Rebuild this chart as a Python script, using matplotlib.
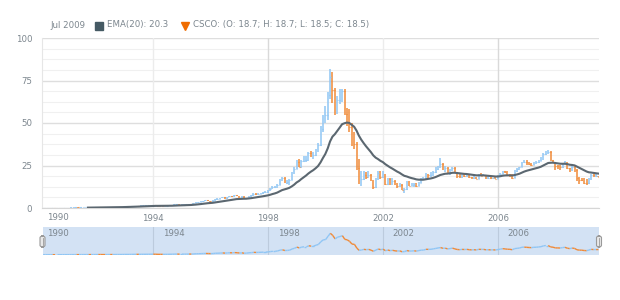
import numpy as np
import pandas as pd
import matplotlib
matplotlib.use("Agg")
import matplotlib.pyplot as plt
import matplotlib.dates as mdates
from matplotlib.collections import LineCollection
from matplotlib.patches import FancyBboxPatch

# CSCO monthly OHLC, Mar 1990 .. Jul 2009
start_month = "1990-03-01"

opens = [
    0.07, 0.08, 0.09, 0.10, 0.11, 0.12, 0.10, 0.10, 0.12, 0.15,
    0.17, 0.22, 0.25, 0.28, 0.30, 0.32, 0.30, 0.34, 0.38, 0.40, 0.42, 0.41,
    0.45, 0.55, 0.58, 0.52, 0.50, 0.46, 0.52, 0.56, 0.55, 0.60, 0.66, 0.70,
    0.75, 0.90, 0.92, 0.95, 1.15, 1.30, 1.32, 1.25, 1.45, 1.50, 1.55, 1.60,
    1.78, 1.80, 1.70, 1.30, 1.25, 1.20, 1.30, 1.40, 1.60, 1.75, 2.10, 2.15,
    1.95, 1.95, 2.05, 2.10, 2.30, 2.25, 2.80, 3.30, 3.50, 3.85, 4.25, 4.45,
    4.15, 3.90, 4.30, 5.15, 5.45, 5.80, 6.30, 5.75, 6.45, 6.90, 6.85, 7.55,
    7.07, 6.10, 6.60, 5.35, 5.70, 6.95, 7.40, 8.45, 8.10, 8.45, 8.70, 9.30,
    9.30, 10.10, 11.40, 12.20, 12.20, 13.70, 16.40, 17.60, 15.00, 15.45, 16.50, 20.70,
    23.20, 27.30, 24.40, 27.40, 28.50, 28.50, 32.20, 31.00, 31.00, 34.30, 37.00, 46.70,
    53.56, 54.70, 66.70, 77.30, 69.30, 56.90, 63.60, 65.40, 68.70, 55.30, 53.90, 47.90,
    38.30, 37.40, 23.70, 15.80, 16.98, 19.26, 18.20, 19.20, 16.33, 12.18, 16.92, 20.50,
    18.10, 19.80, 14.30, 16.90, 14.65, 15.80, 13.95, 13.20, 13.80, 10.50, 11.20, 14.90,
    13.10, 13.40, 14.00, 13.00, 15.00, 16.40, 16.80, 19.50, 19.20, 19.60, 21.00, 22.70,
    24.30, 25.70, 23.10, 23.60, 20.90, 22.10, 23.70, 20.90, 18.80, 18.10, 19.20, 18.70,
    19.30, 18.00, 17.40, 17.90, 17.30, 19.40, 19.10, 19.20, 17.60, 17.90, 17.40, 17.50,
    17.10, 18.60, 20.20, 21.70, 20.90, 19.70, 19.50, 17.90, 22.00, 23.00, 24.10, 26.90,
    27.30, 26.60, 25.90, 25.50, 26.70, 26.90, 27.90, 28.90, 31.90, 33.10, 33.10, 28.00,
    27.10, 24.50, 24.40, 24.10, 25.60, 26.70, 23.30, 22.00, 24.00, 22.60, 17.80, 16.50,
    16.30, 15.00, 14.60, 16.80, 19.30, 18.50, 18.70,
]
highs = [
    0.09, 0.10, 0.11, 0.12, 0.13, 0.13, 0.12, 0.13, 0.16, 0.18,
    0.24, 0.27, 0.30, 0.32, 0.34, 0.34, 0.36, 0.40, 0.43, 0.45, 0.46, 0.48,
    0.60, 0.63, 0.60, 0.56, 0.53, 0.55, 0.59, 0.60, 0.63, 0.68, 0.73, 0.80,
    0.95, 1.00, 1.02, 1.20, 1.38, 1.42, 1.40, 1.50, 1.60, 1.65, 1.70, 1.85,
    1.95, 1.90, 1.75, 1.45, 1.38, 1.40, 1.48, 1.65, 1.85, 2.20, 2.30, 2.20,
    2.10, 2.15, 2.25, 2.40, 2.45, 2.90, 3.45, 3.70, 4.00, 4.40, 4.70, 4.60,
    4.30, 4.50, 5.30, 5.70, 6.10, 6.60, 6.40, 6.60, 7.10, 7.20, 7.80, 7.70,
    7.30, 7.00, 6.80, 6.00, 7.20, 7.70, 8.80, 8.90, 8.90, 9.10, 9.60, 9.90,
    10.40, 11.80, 12.70, 12.90, 14.00, 16.80, 18.20, 18.00, 16.60, 17.20, 21.20, 24.00,
    28.50, 28.80, 28.00, 30.50, 30.80, 33.00, 33.80, 32.80, 35.00, 38.00, 48.00, 55.00,
    60.00, 68.00, 82.00, 80.00, 70.50, 66.00, 69.80, 70.00, 70.00, 59.00, 58.00, 50.00,
    44.50, 39.00, 29.00, 22.00, 21.50, 21.00, 21.80, 20.20, 16.50, 17.80, 21.50, 21.80,
    21.70, 20.00, 17.80, 17.50, 17.50, 16.50, 14.50, 15.00, 14.20, 12.00, 15.80, 15.70,
    14.80, 14.50, 14.70, 15.40, 17.50, 18.50, 20.50, 20.00, 21.00, 22.00, 24.00, 25.00,
    29.40, 26.40, 24.80, 24.10, 23.20, 24.20, 24.00, 21.00, 20.20, 20.10, 19.80, 19.90,
    19.70, 18.50, 18.60, 18.30, 20.10, 20.30, 20.10, 19.70, 18.80, 18.20, 17.80, 18.10,
    19.30, 20.50, 22.00, 22.00, 21.50, 20.10, 19.80, 22.30, 23.50, 24.40, 27.30, 28.00,
    28.00, 27.20, 26.30, 27.00, 27.50, 28.40, 30.00, 32.20, 33.80, 34.20, 33.50, 28.50,
    27.20, 25.20, 25.30, 26.50, 27.70, 27.00, 23.80, 25.20, 24.80, 22.70, 18.50, 17.80,
    17.80, 16.80, 17.50, 19.80, 20.00, 19.80, 18.70,
]
lows = [
    0.07, 0.08, 0.09, 0.10, 0.10, 0.09, 0.09, 0.10, 0.11, 0.14,
    0.16, 0.21, 0.24, 0.27, 0.29, 0.28, 0.29, 0.33, 0.37, 0.39, 0.39, 0.40,
    0.44, 0.53, 0.50, 0.48, 0.44, 0.45, 0.50, 0.52, 0.53, 0.58, 0.64, 0.69,
    0.73, 0.86, 0.88, 0.92, 1.10, 1.20, 1.18, 1.22, 1.40, 1.45, 1.50, 1.56,
    1.65, 1.62, 1.25, 1.15, 1.12, 1.15, 1.25, 1.36, 1.55, 1.70, 1.98, 1.85,
    1.85, 1.88, 1.98, 2.02, 2.15, 2.18, 2.70, 3.15, 3.35, 3.70, 4.10, 3.95,
    3.70, 3.75, 4.20, 5.00, 5.30, 5.60, 5.20, 5.50, 6.30, 6.50, 6.70, 6.90,
    5.90, 5.90, 5.20, 5.10, 5.60, 6.70, 7.30, 7.90, 7.90, 8.10, 8.40, 8.80,
    9.00, 9.90, 11.20, 11.60, 11.80, 13.40, 16.00, 14.50, 14.00, 13.50, 16.20, 20.20,
    22.80, 24.00, 23.80, 27.00, 26.80, 27.80, 30.20, 29.00, 30.50, 33.00, 36.50, 45.00,
    50.00, 52.00, 64.00, 61.50, 55.00, 55.50, 61.00, 62.50, 54.50, 48.00, 45.00, 36.50,
    35.00, 22.50, 14.30, 13.20, 16.50, 17.00, 17.80, 15.90, 11.30, 11.80, 16.50, 17.30,
    17.50, 13.80, 13.50, 13.80, 13.80, 13.40, 11.50, 12.60, 10.30, 8.60, 10.80, 12.80,
    12.80, 12.50, 12.20, 12.80, 14.70, 16.20, 16.50, 17.70, 18.50, 19.00, 20.80, 22.20,
    23.80, 22.50, 21.00, 20.20, 19.70, 21.50, 20.50, 17.50, 17.60, 17.50, 18.20, 18.30,
    17.50, 16.90, 16.80, 16.80, 17.10, 18.60, 18.70, 17.30, 16.90, 16.80, 16.80, 16.90,
    16.90, 18.30, 20.00, 20.40, 19.30, 18.50, 17.20, 17.80, 21.30, 22.50, 23.90, 26.50,
    25.30, 25.10, 24.90, 25.30, 26.00, 26.60, 27.70, 28.20, 31.00, 31.90, 27.50, 26.50,
    22.50, 23.00, 22.30, 23.80, 25.30, 22.80, 21.00, 21.80, 21.30, 15.80, 14.20, 15.70,
    14.40, 13.60, 13.90, 16.60, 18.20, 18.10, 18.50,
]
closes = [
    0.08, 0.09, 0.10, 0.11, 0.12, 0.10, 0.10, 0.12, 0.15, 0.17,
    0.22, 0.25, 0.28, 0.30, 0.32, 0.30, 0.34, 0.38, 0.40, 0.42, 0.41, 0.45,
    0.55, 0.58, 0.52, 0.50, 0.46, 0.52, 0.56, 0.55, 0.60, 0.66, 0.70, 0.75,
    0.90, 0.92, 0.95, 1.15, 1.30, 1.32, 1.25, 1.45, 1.50, 1.55, 1.60, 1.78,
    1.80, 1.70, 1.30, 1.25, 1.20, 1.30, 1.40, 1.60, 1.75, 2.10, 2.15, 1.95,
    1.95, 2.05, 2.10, 2.30, 2.25, 2.80, 3.30, 3.50, 3.85, 4.25, 4.45, 4.15,
    3.90, 4.30, 5.15, 5.45, 5.80, 6.30, 5.75, 6.45, 6.90, 6.85, 7.55, 7.07,
    6.10, 6.60, 5.35, 5.70, 6.95, 7.40, 8.45, 8.10, 8.45, 8.70, 9.30, 9.30,
    10.10, 11.40, 12.20, 12.20, 13.70, 16.40, 17.60, 15.00, 15.45, 16.50, 20.70, 23.20,
    27.30, 24.40, 27.40, 28.50, 28.50, 32.20, 31.00, 31.00, 34.30, 37.00, 46.70, 53.56,
    54.70, 66.70, 77.30, 69.30, 56.90, 63.60, 65.40, 68.70, 55.30, 53.90, 47.90, 38.30,
    37.40, 23.70, 15.80, 16.98, 19.26, 18.20, 19.20, 16.33, 12.18, 16.92, 20.50, 18.10,
    19.80, 14.30, 16.90, 14.65, 15.80, 13.95, 13.20, 13.80, 10.50, 11.20, 14.90, 13.10,
    13.40, 14.00, 13.00, 15.00, 16.40, 16.80, 19.50, 19.20, 19.60, 21.00, 22.70, 24.30,
    25.70, 23.10, 23.60, 20.90, 22.10, 23.70, 20.90, 18.80, 18.10, 19.20, 18.70, 19.30,
    18.00, 17.40, 17.90, 17.30, 19.40, 19.10, 19.20, 17.60, 17.90, 17.40, 17.50, 17.10,
    18.60, 20.20, 21.70, 20.90, 19.70, 19.50, 17.90, 22.00, 23.00, 24.10, 26.90, 27.30,
    26.60, 25.90, 25.50, 26.70, 26.90, 27.90, 28.90, 31.90, 33.10, 33.10, 28.00, 27.10,
    24.50, 24.40, 24.10, 25.60, 26.70, 23.30, 22.00, 24.00, 22.60, 17.80, 16.50, 16.30,
    15.00, 14.60, 16.80, 19.30, 18.50, 18.60, 18.50,
]

year_ticks = [1994, 1998, 2002, 2006]
legend_date = "Jul 2009"
legend_ema = "EMA(20): 20.3"
legend_csco = "CSCO: (O: 18.7; H: 18.7; L: 18.5; C: 18.5)"

UP = "#90c6f4"
DOWN = "#f08a38"
EMA_COLOR = "#5b6770"
TXT = "#7c868e"

o = np.array(opens)
h = np.array(highs)
l = np.array(lows)
c = np.array(closes)
dates = pd.date_range(start_month, periods=len(c), freq="MS")
x = mdates.date2num(dates)

# EMA(20) on closes
n = 20
ema = np.full(len(c), np.nan)
ema[n - 1] = c[:n].mean()
k = 2 / (n + 1)
for i in range(n, len(c)):
    ema[i] = c[i] * k + ema[i - 1] * (1 - k)

up = c >= o
cols = np.where(up, UP, DOWN)

fig = plt.figure(figsize=(6.2, 3.0), dpi=100)
ax = fig.add_axes([42 / 620, 92 / 300, 557 / 620, 170 / 300])
sc = fig.add_axes([42.7 / 620, 45 / 300, 556.3 / 620, 28 / 300])

xmin = mdates.date2num(pd.Timestamp("1990-02-24"))
xmax = mdates.date2num(pd.Timestamp("2009-07-08"))

# --- main plot
for v in np.arange(0, 100.1, 6.25):
    major = v % 25 == 0
    ax.axhline(v, color="#dedede" if major else "#f0f0f0", lw=1.0 if major else 0.8, zorder=0)
for yr in year_ticks:
    xv = mdates.date2num(pd.Timestamp(f"{yr}-01-01"))
    ax.axvline(xv, color="#d9d9d9" if yr in (1998, 2006) else "#ececec", lw=1.0, zorder=0)

ax.vlines(x, l, h, colors=cols, lw=1.1, zorder=2)
ax.hlines(o, x - 7, x, colors=cols, lw=0.8, zorder=2)
ax.hlines(c, x, x + 7, colors=cols, lw=0.8, zorder=2)
ax.plot(x, ema, color=EMA_COLOR, lw=1.5, zorder=3)

ax.set_xlim(xmin, xmax)
ax.set_ylim(0, 100)
ax.set_yticks([0, 25, 50, 75, 100])
ax.set_xticks([mdates.date2num(pd.Timestamp(f"{yr}-01-01")) for yr in year_ticks])
ax.set_xticklabels([str(yr) for yr in year_ticks])
ax.tick_params(length=0, labelsize=6.2, labelcolor=TXT, pad=4)
ax.tick_params(axis="y", pad=7)
for s in ["top", "right"]:
    ax.spines[s].set_visible(False)
ax.spines["left"].set_color("#e6e6e6")
ax.spines["bottom"].set_color("#d6d6d6")
ax.text(47 / 620, 83 / 300, "1990", transform=fig.transFigure, fontsize=6.2,
        color=TXT, ha="left", va="center")

# --- legend row
fig.text(50 / 620, 1 - 25 / 300, legend_date, fontsize=6.2, color=TXT, va="center")
fig.patches.append(plt.Rectangle((95 / 620, 1 - 30 / 300), 8 / 620, 8 / 300,
                                 transform=fig.transFigure, color="#455a64"))
fig.text(107 / 620, 1 - 25 / 300, legend_ema, fontsize=6.2, color=TXT, va="center")
fig.lines.append(plt.Line2D([184.5 / 620], [1 - 26 / 300], marker="v", ms=5.5,
                            color="#ef6c00", transform=fig.transFigure))
fig.text(193 / 620, 1 - 25 / 300, legend_csco, fontsize=6.2, color=TXT, va="center")

# --- scroller
sc.set_facecolor("#d3e2f4")
pts = np.column_stack([x, c])
segs = np.stack([pts[:-1], pts[1:]], axis=1)
lc = LineCollection(segs, colors=np.where(c[1:] >= c[:-1], UP, DOWN), lw=1.0)
sc.add_collection(lc)
for yr in year_ticks:
    xv = mdates.date2num(pd.Timestamp(f"{yr}-01-01"))
    sc.axvline(xv, color="#bccbdd", lw=0.8, zorder=0)
    sc.text(xv + 120, 94, str(yr), fontsize=6.2, color=TXT, va="top", ha="left")
sc.text(xmin + 60, 94, "1990", fontsize=6.2, color=TXT, va="top", ha="left")
sc.set_xlim(xmin, xmax)
sc.set_ylim(-1.1, 100)
sc.set_xticks([])
sc.set_yticks([])
for s in sc.spines.values():
    s.set_visible(False)

for hx in (42.5, 599):
    fig.patches.append(FancyBboxPatch(((hx - 2.5) / 620, 1 - 247 / 300), 5 / 620, 11 / 300,
                                      boxstyle="round,pad=0,rounding_size=0.006",
                                      transform=fig.transFigure, facecolor="#e8e8e8",
                                      edgecolor="#9a9a9a", lw=0.8, zorder=5))
    fig.lines.append(plt.Line2D([hx / 620, hx / 620], [1 - 245 / 300, 1 - 238 / 300],
                                color="#9a9a9a", lw=0.6, transform=fig.transFigure, zorder=6))

fig.savefig("out.png", dpi=100)
